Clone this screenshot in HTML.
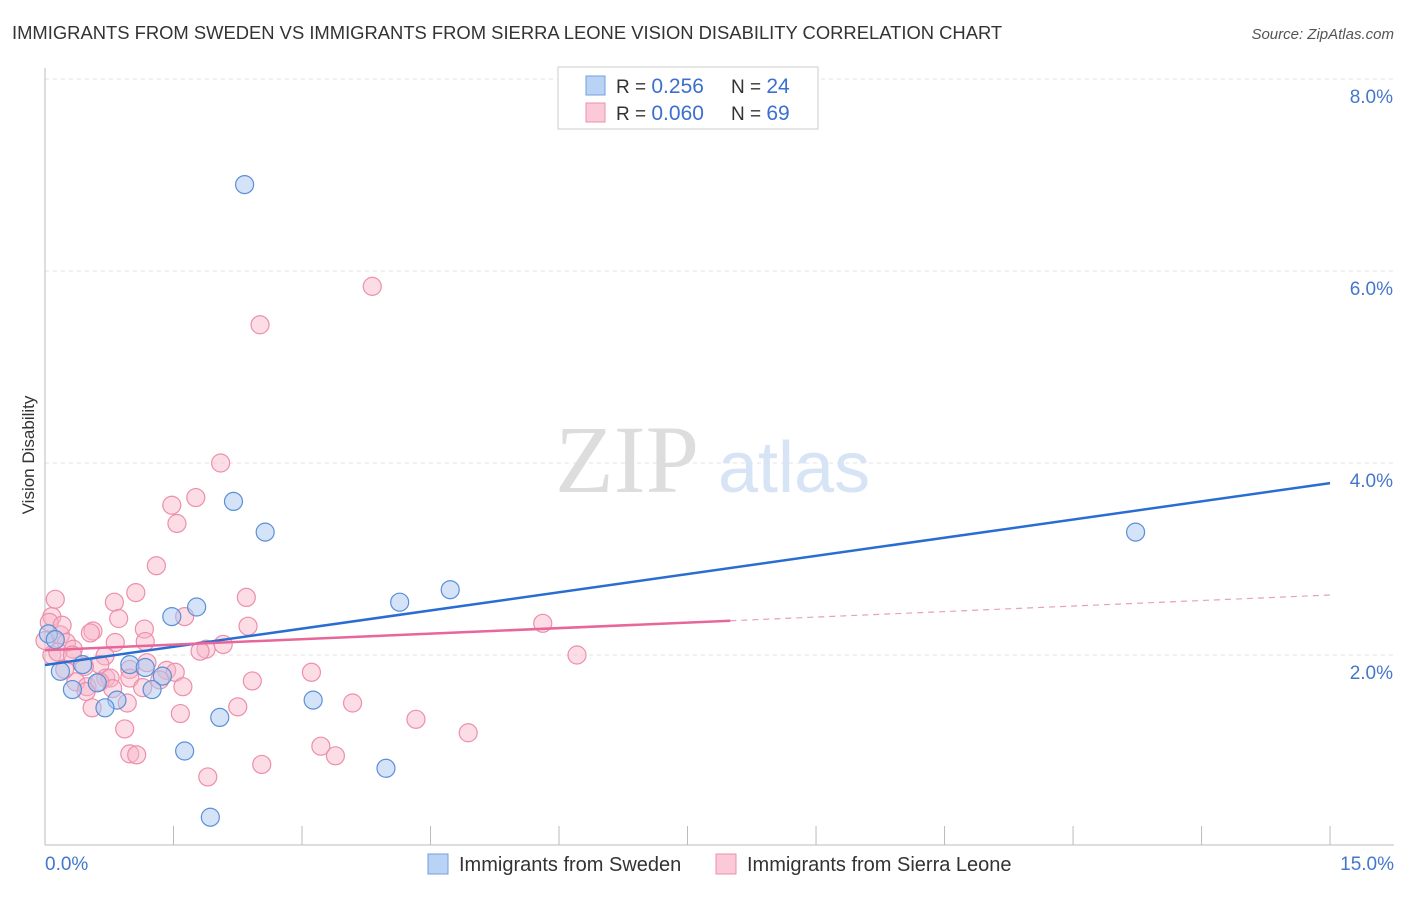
<!DOCTYPE html>
<html><head><meta charset="utf-8"><style>
body{margin:0;background:#fff;font-family:"Liberation Sans",sans-serif;}
</style></head><body>
<svg width="1406" height="892" xmlns="http://www.w3.org/2000/svg">
<text x="12" y="39" font-size="18.4" fill="#333">IMMIGRANTS FROM SWEDEN VS IMMIGRANTS FROM SIERRA LEONE VISION DISABILITY CORRELATION CHART</text>
<text x="1394" y="39" font-size="15" fill="#555" font-style="italic" text-anchor="end">Source: ZipAtlas.com</text>
<g id="grid"></g>
<text x="555" y="492" font-size="96" fill="#ddd" font-family="Liberation Serif">ZIP</text>
<text x="718" y="492" font-size="72" fill="#d6e4f5">atlas</text>
<line x1="45" y1="68" x2="45" y2="845" stroke="#bbb"/>
<line x1="45" y1="845" x2="1394" y2="845" stroke="#bbb"/>
<g id="xticks"></g><g id="yticks"></g>
<text x="34" y="455" font-size="17" fill="#333" text-anchor="middle" transform="rotate(-90 34 455)">Vision Disability</text>
<text x="45" y="870" font-size="19" fill="#4477cc">0.0%</text>
<text x="1394" y="870" font-size="19" fill="#4477cc" text-anchor="end">15.0%</text>
<g id="pts"></g><g id="lines"></g>
<g>
<rect x="558" y="67" width="260" height="62" fill="#fff" stroke="#ccc"/>
<rect x="586" y="76" width="19" height="19" fill="#b9d3f5" stroke="#6f9fe0"/>
<rect x="586" y="103" width="19" height="19" fill="#fbc9d8" stroke="#ec8fab"/>
<text x="616" y="93" font-size="19" fill="#333">R = <tspan fill="#3b6fd0" font-size="21">0.256</tspan><tspan x="731">N = </tspan><tspan fill="#3b6fd0" font-size="21">24</tspan></text>
<text x="616" y="120" font-size="19" fill="#333">R = <tspan fill="#3b6fd0" font-size="21">0.060</tspan><tspan x="731">N = </tspan><tspan fill="#3b6fd0" font-size="21">69</tspan></text>
</g>
<g>
<rect x="428" y="854" width="20" height="20" fill="#b9d3f5" stroke="#6f9fe0"/>
<text x="459" y="871" font-size="20" fill="#333">Immigrants from Sweden</text>
<rect x="716" y="854" width="20" height="20" fill="#fbc9d8" stroke="#ec8fab"/>
<text x="747" y="871" font-size="20" fill="#333">Immigrants from Sierra Leone</text>
</g>
</svg>
<script>
const yTicks=[2,4,6,8];
const xTickVals=[0,1.5,3,4.5,6,7.5,9,10.5,12,13.5,15];
const swedenX=[2.33,2.2,2.57,12.73,4.73,4.14,1.77,1.48,0.04,0.12,0.44,0.99,1.17,1.37,0.18,0.32,0.61,1.25,0.84,0.7,2.04,3.13,1.63,3.98,1.93];
const swedenY=[6.9,3.6,3.28,3.28,2.68,2.55,2.5,2.4,2.22,2.16,1.9,1.9,1.87,1.78,1.83,1.64,1.71,1.64,1.53,1.45,1.35,1.53,1.0,0.82,0.31];
const sierraX=[3.82,2.51,2.05,1.76,1.48,1.54,1.06,1.3,2.35,0.81,1.63,0.86,1.16,0.08,0.05,0.18,0.25,0.33,0.56,0.53,2.37,5.81,6.21,1.17,0.82,2.08,1.88,0.08,0.15,0.7,0.64,0.46,0.99,1.42,1.52,1.19,3.11,0.71,2.42,0.36,0.76,0.99,1.61,1.14,0.49,0.48,0.96,0.55,2.25,3.59,1.58,4.33,0.93,4.94,3.22,0.99,1.07,3.39,2.53,1.9,0.23,0.32,0.0,0.2,0.64,1.34,1.81,0.79,0.12];
const sierraY=[5.84,5.44,4.0,3.64,3.56,3.37,2.65,2.93,2.6,2.55,2.4,2.38,2.27,2.4,2.34,2.21,2.13,2.06,2.25,2.23,2.3,2.33,2.0,2.14,2.13,2.11,2.06,2.0,2.03,1.99,1.9,1.88,1.85,1.84,1.82,1.92,1.82,1.76,1.73,1.72,1.76,1.76,1.67,1.66,1.67,1.62,1.5,1.45,1.46,1.5,1.39,1.33,1.23,1.19,1.05,0.97,0.96,0.95,0.86,0.73,1.85,2.0,2.15,2.31,1.72,1.74,2.04,1.65,2.58];
const swedenLine=[1.896,3.79];
const sierraLine=[2.05,2.625];
const X=v=>45+v*85.67, Y=v=>847-v*96;
const NS="http://www.w3.org/2000/svg";
function mk(t,a,p){const e=document.createElementNS(NS,t);for(const k in a)e.setAttribute(k,a[k]);document.getElementById(p).appendChild(e);return e;}
yTicks.forEach(v=>{
 const l=mk('line',{x1:45,x2:1394,y1:Y(v),y2:Y(v),stroke:'#e3e3e3','stroke-dasharray':'4,4'},'grid');
 
 
 const t=mk('text',{x:1393,y:Y(v)+24,'font-size':19,fill:'#4477cc','text-anchor':'end'},'yticks');
 t.textContent=v.toFixed(1)+'%';
 
 
});
xTickVals.forEach(v=>{
 const l=mk('line',{x1:X(v),x2:X(v),y1:826,y2:845,stroke:'#bbb'},'xticks');
 
 
});
sierraX.forEach((x,i)=>{
 const c=mk('circle',{cx:X(x),cy:Y(sierraY[i]),r:9,fill:'rgba(248,180,200,0.45)',stroke:'#ec8fab','stroke-width':1.2},'pts');
 
 
});
swedenX.forEach((x,i)=>{
 const c=mk('circle',{cx:X(x),cy:Y(swedenY[i]),r:9,fill:'rgba(170,200,240,0.5)',stroke:'#5b8fd8','stroke-width':1.2},'pts');
 
 
});
const sl=mk('line',{x1:X(0),y1:Y(swedenLine[0]),x2:X(15),y2:Y(swedenLine[1]),stroke:'#2a6dd2','stroke-width':2.5},'lines');


const f=8;
const my=sierraLine[0]+(sierraLine[1]-sierraLine[0])*f/15;
const pl=mk('line',{x1:X(0),y1:Y(sierraLine[0]),x2:X(f),y2:Y(my),stroke:'#e8679a','stroke-width':2.5},'lines');


const pd=mk('line',{x1:X(f),y1:Y(my),x2:X(15),y2:Y(sierraLine[1]),stroke:'#e8a0b8','stroke-width':1.2,'stroke-dasharray':'6,5'},'lines');


</script>
</body></html>
